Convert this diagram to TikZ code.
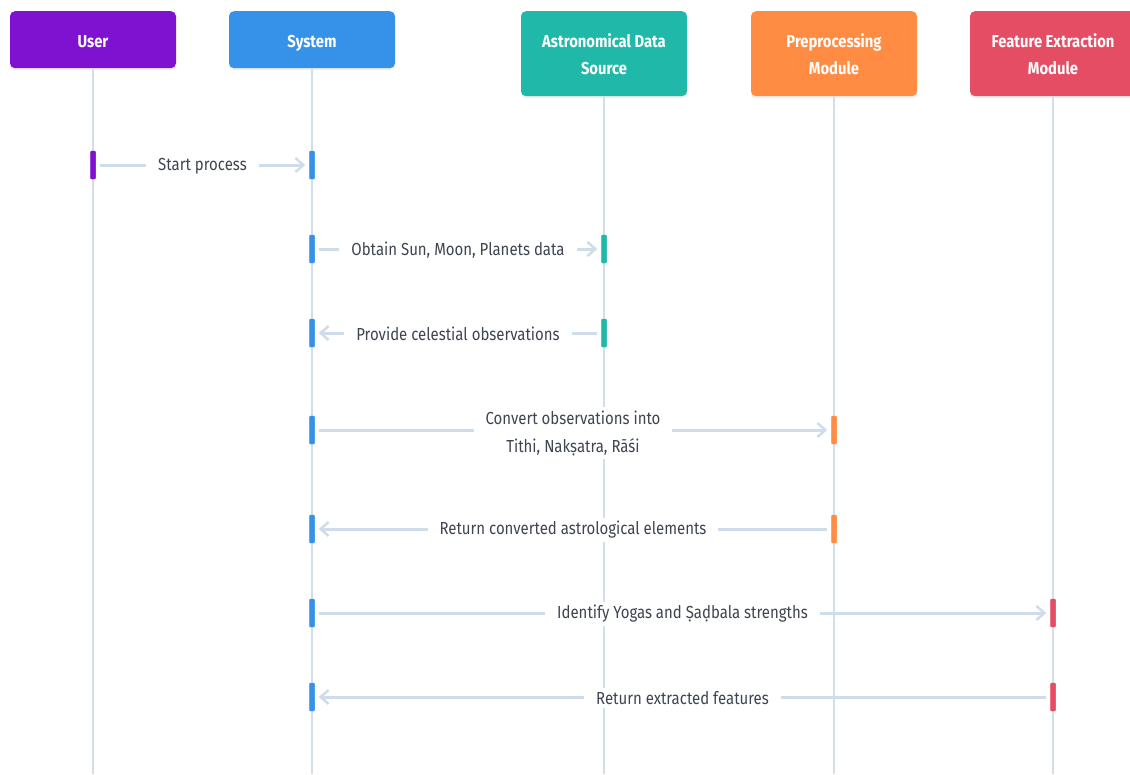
\documentclass[tikz,border=0pt]{standalone}
\usepackage{fontspec}
\setmainfont{Fira Sans}[FakeStretch=0.86]
\usetikzlibrary{arrows.meta,shadows}
\definecolor{cUser}{HTML}{7E12D0}
\definecolor{cSys}{HTML}{3592E8}
\definecolor{cAstro}{HTML}{20B8A8}
\definecolor{cPre}{HTML}{FF8C42}
\definecolor{cFeat}{HTML}{E44D63}
\definecolor{lifec}{HTML}{D3DEEA}
\definecolor{msgc}{HTML}{CFDCEA}
\definecolor{txtc}{HTML}{3E4450}
\begin{document}
\begin{tikzpicture}[x=1pt,y=-1pt,
  hdr/.style={rounded corners=5pt, minimum width=166pt, text=white, inner sep=0pt,
    font=\bfseries\fontsize{17.2}{27}\selectfont, align=center, anchor=north,
    drop shadow={opacity=0.12, shadow xshift=0pt, shadow yshift=-2pt}},
  hdrone/.style={hdr, minimum height=57pt, text height=15pt, text depth=0pt},
  life/.style={draw=lifec, line width=2pt},
  act/.style={minimum width=5pt, minimum height=28pt, inner sep=0pt, rounded corners=1pt},
  msg/.style={draw=msgc, line width=3pt, shorten <=4pt, shorten >=4pt,
    -{Straight Barb[length=8pt,width=14pt,line width=2.5pt]}},
  lbl/.style={fill=white, text=txtc, font=\fontsize{17.4}{28}\selectfont,
    inner xsep=12pt, inner ysep=3pt, align=center}]
\useasboundingbox (0,0) rectangle (1130,774);
\fill[white] (0,0) rectangle (1130,774);
% headers
\node[hdrone, fill=cUser] (user) at (93,11) {User};
\node[hdrone, fill=cSys] (sys) at (312,11) {System};
\node[hdr, fill=cAstro, minimum height=85pt] (astro) at (604,11) {Astronomical Data\\Source};
\node[hdr, fill=cPre, minimum height=85pt] (pre) at (834,11) {Preprocessing\\Module};
\node[hdr, fill=cFeat, minimum height=85pt] (feat) at (1053,11) {Feature Extraction\\Module};
% lifeline ends
\coordinate (userE) at (93,774);
\coordinate (sysE) at (312,774);
\coordinate (astroE) at (604,774);
\coordinate (preE) at (834,774);
\coordinate (featE) at (1053,774);
\draw[life] (user.south) -- (userE);
\draw[life] (sys.south) -- (sysE);
\draw[life] (astro.south) -- (astroE);
\draw[life] (pre.south) -- (preE);
\draw[life] (feat.south) -- (featE);
% activation bars
\node[act, fill=cUser] (u1) at (93,165) {};
\node[act, fill=cSys] (s1) at (312,165) {};
\node[act, fill=cSys] (s2) at (312,249) {};
\node[act, fill=cAstro] (a2) at (604,249) {};
\node[act, fill=cSys] (s3) at (312,333) {};
\node[act, fill=cAstro] (a3) at (604,333) {};
\node[act, fill=cSys] (s4) at (312,430) {};
\node[act, fill=cPre] (p4) at (834,430) {};
\node[act, fill=cSys] (s5) at (312,529) {};
\node[act, fill=cPre] (p5) at (834,529) {};
\node[act, fill=cSys] (s6) at (312,613) {};
\node[act, fill=cFeat] (f6) at (1053,613) {};
\node[act, fill=cSys] (s7) at (312,697) {};
\node[act, fill=cFeat] (f7) at (1053,697) {};
% messages
\draw[msg] (u1) -- node[lbl, yshift=-1pt] {Start process} (s1);
\draw[msg] (s2) -- node[lbl, yshift=-1pt] {Obtain Sun, Moon, Planets data} (a2);
\draw[msg] (a3) -- node[lbl, yshift=-1pt] {Provide celestial observations} (s3);
\draw[msg] (s4) -- node[lbl, yshift=-3pt] {Convert observations into\\Tithi, Nakṣatra, Rāśi} (p4);
\draw[msg] (p5) -- node[lbl, yshift=-1pt] {Return converted astrological elements} (s5);
\draw[msg] (s6) -- node[lbl, yshift=-1pt] {Identify Yogas and Ṣaḍbala strengths} (f6);
\draw[msg] (f7) -- node[lbl, yshift=-1pt] {Return extracted features} (s7);
% redraw bars on top
\foreach \n/\c in {u1/cUser,s1/cSys,s2/cSys,a2/cAstro,s3/cSys,a3/cAstro,s4/cSys,p4/cPre,s5/cSys,p5/cPre,s6/cSys,f6/cFeat,s7/cSys,f7/cFeat}
  \fill[\c, rounded corners=1pt] (\n.north west) rectangle (\n.south east);
\end{tikzpicture}
\end{document}
